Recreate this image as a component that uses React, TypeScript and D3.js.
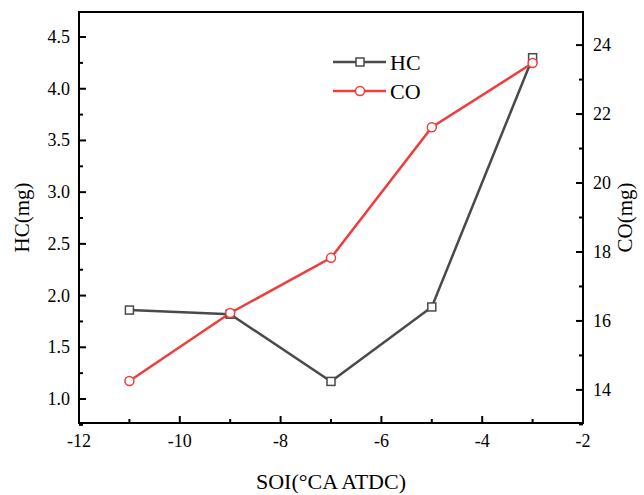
import React from "react";
import * as d3 from "d3";

const soi = [-11, -9, -7, -5, -3];
const hcValues = [1.86, 1.82, 1.17, 1.89, 4.30];
const coValues = [14.26, 16.23, 17.83, 21.62, 23.48];
const xTicks = [-12, -10, -8, -6, -4, -2];
const xMinor = [-11, -9, -7, -5, -3];
const hcTicks = [1.0, 1.5, 2.0, 2.5, 3.0, 3.5, 4.0, 4.5];
const hcMinor = [0.75, 1.25, 1.75, 2.25, 2.75, 3.25, 3.75, 4.25];
const coTicks = [14, 16, 18, 20, 22, 24];
const coMinor = [13, 15, 17, 19, 21, 23];
const seriesNames = ["HC", "CO"];

const W = 644, H = 495;
const L = 79, R = 583, T = 12, B = 423;
const FONT = "'Liberation Serif', 'Times New Roman', serif";
const HC_COLOR = "#4a4a4a";
const CO_COLOR = "#f03c3c";

export default function App() {
  const x = d3.scaleLinear().domain([-12, -2]).range([L, R]);
  const yH = d3.scaleLinear().domain([0.768, 4.742]).range([B, T]);
  const yC = d3.scaleLinear().domain([13.04, 24.96]).range([B, T]);

  const lineH = d3.line<number>().x((_, i) => x(soi[i])).y((d) => yH(d));
  const lineC = d3.line<number>().x((_, i) => x(soi[i])).y((d) => yC(d));

  return (
    <svg width={W} height={H} style={{ position: "absolute", left: 0, top: 0, background: "#fff" }}>
      <rect x={0} y={0} width={W} height={H} fill="#fff" />
      <rect x={L} y={T} width={R - L} height={B - T} fill="none" stroke="#000" strokeWidth={2} />
      {xTicks.map((t) => (
        <g key={"xt" + t}>
          <line x1={x(t)} x2={x(t)} y1={B} y2={B - 7} stroke="#000" strokeWidth={2} />
          <text x={x(t)} y={447} textAnchor="middle" fontFamily={FONT} fontSize={18}>{t}</text>
        </g>
      ))}
      {xMinor.map((t) => (
        <line key={"xm" + t} x1={x(t)} x2={x(t)} y1={B} y2={B - 4} stroke="#000" strokeWidth={2} />
      ))}
      {hcTicks.map((t) => (
        <g key={"ht" + t}>
          <line x1={L} x2={L + 7} y1={yH(t)} y2={yH(t)} stroke="#000" strokeWidth={2} />
          <text x={70} y={yH(t) + 6} textAnchor="end" fontFamily={FONT} fontSize={18}>{t.toFixed(1)}</text>
        </g>
      ))}
      {hcMinor.map((t) => (
        <line key={"hm" + t} x1={L} x2={L + 4} y1={yH(t)} y2={yH(t)} stroke="#000" strokeWidth={2} />
      ))}
      {coTicks.map((t) => (
        <g key={"ct" + t}>
          <line x1={R} x2={R - 7} y1={yC(t)} y2={yC(t)} stroke="#000" strokeWidth={2} />
          <text x={593} y={yC(t) + 6} textAnchor="start" fontFamily={FONT} fontSize={18}>{t}</text>
        </g>
      ))}
      {coMinor.map((t) => (
        <line key={"cm" + t} x1={R} x2={R - 4} y1={yC(t)} y2={yC(t)} stroke="#000" strokeWidth={2} />
      ))}
      <text x={331} y={489} textAnchor="middle" fontFamily={FONT} fontSize={22}>SOI(°CA ATDC)</text>
      <text transform={`translate(29,${(T + B) / 2}) rotate(-90)`} textAnchor="middle" fontFamily={FONT} fontSize={21}>HC(mg)</text>
      <text transform={`translate(632,${(T + B) / 2}) rotate(-90)`} textAnchor="middle" fontFamily={FONT} fontSize={21}>CO(mg)</text>
      <path d={lineH(hcValues) || ""} fill="none" stroke={HC_COLOR} strokeWidth={2.5} />
      <path d={lineC(coValues) || ""} fill="none" stroke={CO_COLOR} strokeWidth={2.5} />
      {hcValues.map((v, i) => (
        <rect key={"hp" + i} x={x(soi[i]) - 4} y={yH(v) - 4} width={8} height={8} fill="#fff" stroke={HC_COLOR} strokeWidth={1.5} />
      ))}
      {coValues.map((v, i) => (
        <circle key={"cp" + i} cx={x(soi[i])} cy={yC(v)} r={4.5} fill="#fff" stroke={CO_COLOR} strokeWidth={1.5} />
      ))}
      {seriesNames.map((name, i) => {
        const ly = 62 + i * 29;
        const color = i === 0 ? HC_COLOR : CO_COLOR;
        return (
          <g key={name}>
            <line x1={333} x2={386} y1={ly} y2={ly} stroke={color} strokeWidth={2.5} />
            {i === 0 ? (
              <rect x={356} y={ly - 4} width={8} height={8} fill="#fff" stroke={color} strokeWidth={1.5} />
            ) : (
              <circle cx={360} cy={ly} r={4.5} fill="#fff" stroke={color} strokeWidth={1.5} />
            )}
            <text x={390} y={ly + 8} fontFamily={FONT} fontSize={22}>{name}</text>
          </g>
        );
      })}
    </svg>
  );
}
